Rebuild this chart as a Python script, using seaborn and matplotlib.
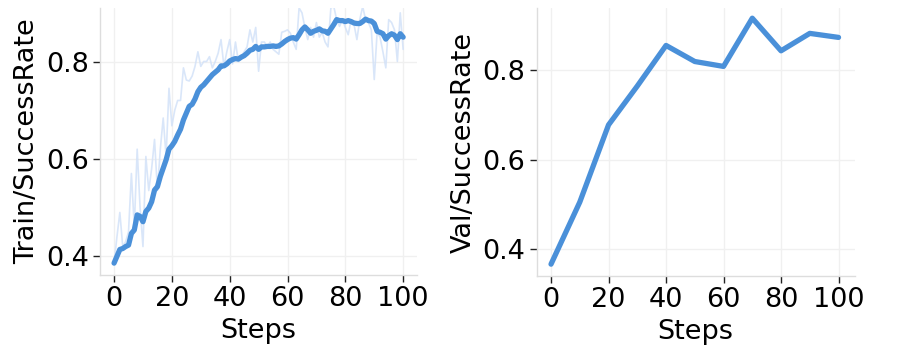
import numpy as np
import pandas as pd
import matplotlib
matplotlib.use("Agg")
import matplotlib.pyplot as plt
import seaborn as sns

# ---- data ----
train_steps = list(range(0, 101))
train_raw = [0.386, 0.44, 0.49, 0.42, 0.43, 0.45, 0.57, 0.46, 0.62, 0.50,
             0.42, 0.605, 0.535, 0.58, 0.64, 0.535, 0.62, 0.684, 0.605, 0.745,
             0.668, 0.70, 0.72, 0.72, 0.787, 0.762, 0.76, 0.77, 0.79, 0.82,
             0.79, 0.80, 0.80, 0.81, 0.787, 0.80, 0.817, 0.845, 0.79, 0.82,
             0.845, 0.795, 0.84, 0.80, 0.81, 0.82, 0.83, 0.865, 0.84, 0.87,
             0.78, 0.84, 0.84, 0.83, 0.84, 0.825, 0.82, 0.815, 0.86, 0.862,
             0.865, 0.858, 0.84, 0.825, 0.91, 0.90, 0.87, 0.845, 0.87, 0.85,
             0.88, 0.85, 0.86, 0.84, 0.83, 0.91, 0.913, 0.886, 0.872, 0.886,
             0.87, 0.855, 0.886, 0.876, 0.845, 0.886, 0.913, 0.886, 0.88, 0.865,
             0.763, 0.86, 0.85, 0.82, 0.787, 0.886, 0.88, 0.865, 0.80, 0.90,
             0.825]
train_smooth = [0.386, 0.400, 0.414, 0.416, 0.420, 0.423, 0.447, 0.454, 0.485, 0.482,
                0.471, 0.492, 0.499, 0.512, 0.536, 0.543, 0.564, 0.581, 0.598, 0.620,
                0.627, 0.636, 0.649, 0.661, 0.680, 0.694, 0.708, 0.712, 0.723, 0.738,
                0.747, 0.752, 0.759, 0.766, 0.773, 0.778, 0.783, 0.791, 0.791, 0.795,
                0.801, 0.804, 0.806, 0.805, 0.809, 0.812, 0.817, 0.823, 0.825, 0.831,
                0.825, 0.830, 0.830, 0.831, 0.831, 0.832, 0.831, 0.832, 0.836, 0.841,
                0.845, 0.848, 0.849, 0.846, 0.855, 0.865, 0.871, 0.865, 0.858, 0.862,
                0.864, 0.867, 0.863, 0.862, 0.858, 0.867, 0.876, 0.886, 0.884, 0.884,
                0.882, 0.884, 0.882, 0.879, 0.878, 0.878, 0.882, 0.887, 0.884, 0.883,
                0.878, 0.862, 0.860, 0.857, 0.846, 0.853, 0.857, 0.854, 0.845, 0.857,
                0.850]
val_steps = [0, 10, 20, 30, 40, 50, 60, 70, 80, 90, 100]
val_rate = [0.366, 0.505, 0.678, 0.765, 0.856, 0.820, 0.809, 0.917, 0.844, 0.883, 0.874]
x_ticks = [0, 20, 40, 60, 80, 100]
y_ticks = [0.4, 0.6, 0.8]

train_df = pd.DataFrame({"Steps": train_steps, "raw": train_raw, "smooth": train_smooth})
val_df = pd.DataFrame({"Steps": val_steps, "val": val_rate})

sns.set_theme(style="whitegrid")
plt.rcParams["font.family"] = ["DejaVu Sans"]

LINE = "#4a90d9"
RAW = "#d3e2f8"
FS = 19.5

fig = plt.figure(figsize=(8.98, 3.56), dpi=100)
ax1 = fig.add_axes([0.1114, 0.2267, 0.353, 0.751])
ax2 = fig.add_axes([0.5977, 0.2247, 0.354, 0.753])

sns.lineplot(data=train_df, x="Steps", y="raw", ax=ax1, color=RAW, linewidth=1.2, alpha=0.85)
sns.lineplot(data=train_df, x="Steps", y="smooth", ax=ax1, color=LINE, linewidth=3.8)
sns.lineplot(data=val_df, x="Steps", y="val", ax=ax2, color=LINE, linewidth=3.8)

ax1.set_xlim(-4.85, 104.8)
ax1.set_ylim(0.361, 0.910)
ax2.set_xlim(-4.97, 105.6)
ax2.set_ylim(0.3395, 0.940)

for ax, lab in [(ax1, "Train/SuccessRate"), (ax2, "Val/SuccessRate")]:
    ax.set_xticks(x_ticks)
    ax.set_yticks(y_ticks)
    ax.set_xticklabels([str(t) for t in x_ticks])
    ax.set_yticklabels([f"{t:.1f}" for t in y_ticks])
    ax.set_xlabel("Steps", fontsize=FS, labelpad=4, color="black")
    ax.set_ylabel(lab, fontsize=FS, labelpad=4, color="black")
    ax.tick_params(axis="both", labelsize=FS, length=5, width=1, color="#222222",
                   labelcolor="black", direction="out", bottom=True, left=True, pad=3)
    ax.grid(True, color="#f0f0f0", linewidth=1)
    for s in ["top", "right"]:
        ax.spines[s].set_visible(False)
    for s in ["left", "bottom"]:
        ax.spines[s].set_color("#dddddd")
        ax.spines[s].set_linewidth(1)
    ax.set_facecolor("white")

fig.savefig("out.png", dpi=100, facecolor="white")
